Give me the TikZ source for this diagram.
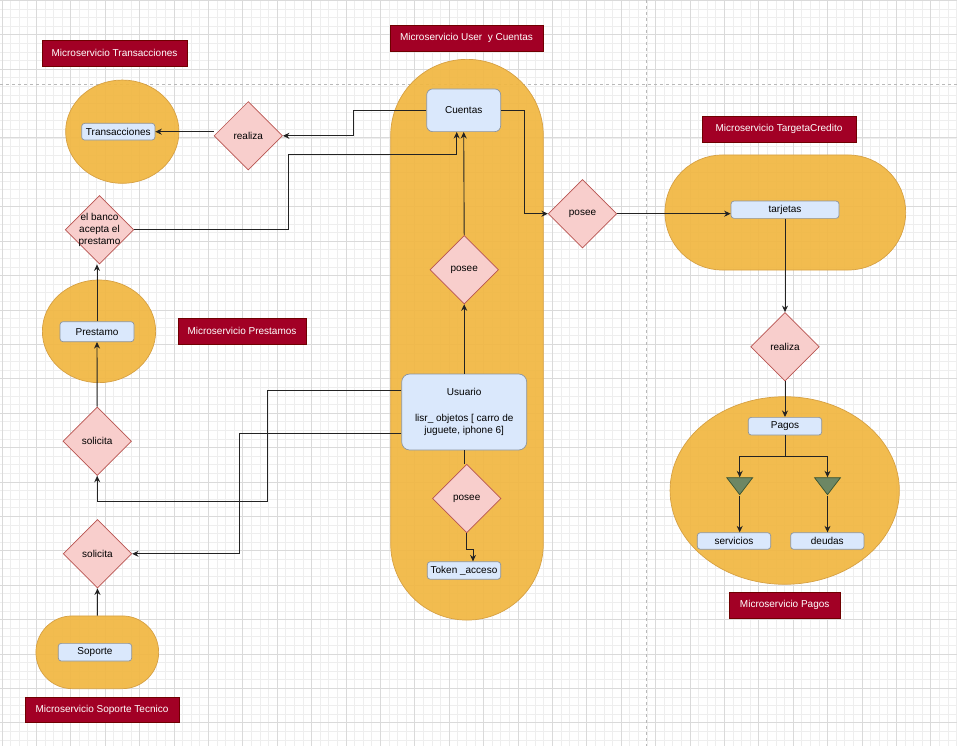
\documentclass[tikz,border=0pt]{standalone}
\usepackage{fontspec}
\setmainfont{Liberation Sans}
\usepackage{tikz}
\usetikzlibrary{shapes.geometric,arrows.meta}
\usepackage{xcolor}
\definecolor{crimsonbox}{RGB}{162,0,37}
\definecolor{crimsonline}{RGB}{111,0,0}
\definecolor{serviceorange}{RGB}{241,183,65}
\definecolor{serviceedge}{RGB}{214,160,66}
\definecolor{entityblue}{RGB}{218,232,252}
\definecolor{entityline}{RGB}{140,148,158}
\definecolor{relationpink}{RGB}{248,206,204}
\definecolor{relationline}{RGB}{184,84,80}
\definecolor{forkgreen}{RGB}{109,135,100}
\definecolor{forkline}{RGB}{58,84,49}
\definecolor{wiregray}{RGB}{35,35,35}
\definecolor{gridminor}{RGB}{238,238,238}
\definecolor{gridmajor}{RGB}{218,218,218}
\definecolor{pagebreak}{RGB}{185,185,185}

\begin{document}
\begin{tikzpicture}[x=1pt, y=-1pt,
    txt/.style={font=\fontsize{10}{12}\selectfont},
    svclabel/.style={txt, rectangle, fill=crimsonbox, draw=crimsonline, text=white, inner sep=0pt},
    svcarea/.style={fill=serviceorange, fill opacity=0.92, draw=serviceedge, line width=0.7pt, inner sep=0pt},
    entbox/.style={txt, rectangle, rounded corners=3pt, fill=entityblue, draw=entityline, line width=0.7pt, inner sep=0pt},
    relbox/.style={txt, diamond, fill=relationpink, draw=relationline, line width=0.7pt, inner sep=0pt, minimum width=68.5pt, minimum height=68.5pt},
    forktri/.style={isosceles triangle, isosceles triangle stretches, rotate=-90, fill=forkgreen, draw=forkline, line width=0.7pt, inner sep=0pt, minimum width=26pt, minimum height=17pt},
    plainline/.style={wiregray, line width=0.9pt},
    arrowline/.style={plainline, -{Stealth[length=6.5pt,width=6pt]}}]
    \useasboundingbox (0,0) rectangle (957,746);
    \fill[white] (0,0) rectangle (957,746);

    % Grid
    \foreach \gx in {0,...,111} \draw[gridminor, line width=0.5pt] ({1.9+8.6*\gx},0) -- ++(0,746);
    \foreach \gy in {0,...,86} \draw[gridminor, line width=0.5pt] (0,{0.2+8.6*\gy}) -- ++(957,0);
    \foreach \gx in {0,...,27} \draw[gridmajor, line width=0.6pt] ({1.9+34.4*\gx},0) -- ++(0,746);
    \foreach \gy in {0,...,21} \draw[gridmajor, line width=0.6pt] (0,{0.2+34.4*\gy}) -- ++(957,0);

    % Page breaks
    \draw[pagebreak, line width=0.6pt, dash pattern=on 3pt off 3pt] (0,84.3) -- (957,84.3);
    \draw[pagebreak, line width=0.6pt, dash pattern=on 3pt off 3pt] (646,0) -- (646,746);

    % Microservice areas
    \node[svcarea, ellipse, minimum width=113.3pt, minimum height=103.3pt] (transacArea) at (122.3,131.7) {};
    \node[svcarea, rectangle, rounded corners=76.2pt, minimum width=152.6pt, minimum height=560.7pt] (userArea) at (467,339.7) {};
    \node[svcarea, rectangle, rounded corners=57.4pt, minimum width=240.7pt, minimum height=115pt] (tarjetaArea) at (785.3,212.5) {};
    \node[svcarea, ellipse, minimum width=113.3pt, minimum height=102.7pt] (prestamoArea) at (99,331.3) {};
    \node[svcarea, ellipse, minimum width=229.3pt, minimum height=187.6pt] (pagosArea) at (784.7,490.5) {};
    \node[svcarea, rectangle, rounded corners=36.2pt, minimum width=122.7pt, minimum height=72.7pt] (soporteArea) at (97.3,652.3) {};

    % Microservice names
    \node[svclabel, minimum width=145.6pt, minimum height=26pt] (transacName) at (114.5,53) {Microservicio Transacciones};
    \node[svclabel, minimum width=153pt, minimum height=26pt] (userName) at (466.5,38) {Microservicio User~ y Cuentas};
    \node[svclabel, minimum width=154pt, minimum height=26.7pt] (tarjetaName) at (779,129.3) {Microservicio TargetaCredito};
    \node[svclabel, minimum width=128pt, minimum height=26pt] (prestamoName) at (242,331) {Microservicio Prestamos};
    \node[svclabel, minimum width=111.3pt, minimum height=26pt] (pagosName) at (784.7,605.3) {Microservicio Pagos};
    \node[svclabel, minimum width=154pt, minimum height=25.6pt] (soporteName) at (102,709.5) {Microservicio Soporte Tecnico};

    % Entities
    \node[entbox, minimum width=73.3pt, minimum height=16.7pt] (transac) at (118.3,131.7) {Transacciones};
    \node[entbox, rounded corners=6pt, minimum width=74pt, minimum height=42.7pt] (cuentas) at (463.7,110.3) {Cuentas};
    \node[entbox, minimum width=108pt, minimum height=17.3pt] (tarjetas) at (785,209.7) {tarjetas};
    \node[entbox, minimum width=74pt, minimum height=20pt] (prestamo) at (97,331.7) {Prestamo};
    \node[entbox, rounded corners=8pt, minimum width=125pt, minimum height=76pt, align=center] (usuario) at (464.2,412) {Usuario\\[14pt]lisr\_ objetos [ carro de\\juguete, iphone 6]};
    \node[entbox, minimum width=73.4pt, minimum height=17.6pt] (token) at (464,570.5) {Token \_acceso};
    \node[entbox, minimum width=73.4pt, minimum height=17.7pt] (pagos) at (785,426.2) {Pagos};
    \node[entbox, minimum width=73.4pt, minimum height=16.6pt] (servicios) at (734,541) {servicios};
    \node[entbox, minimum width=73.3pt, minimum height=16.6pt] (deudas) at (827.3,541) {deudas};
    \node[entbox, minimum width=73.4pt, minimum height=17.7pt] (soporte) at (95,652.2) {Soporte};

    % Relations
    \node[relbox] (realizaL) at (248.3,135.8) {realiza};
    \node[relbox, label={[txt, align=center]center:{el banco\\acepta el\\prestamo}}] (banco) at (99.5,229.8) {};
    \node[relbox] (poseeR) at (582.5,213.7) {posee};
    \node[relbox] (poseeC) at (464.2,269.7) {posee};
    \node[relbox] (solicitaP) at (97.2,441.2) {solicita};
    \node[relbox] (solicitaS) at (97.5,553.8) {solicita};
    \node[relbox] (poseeB) at (466.7,498.5) {posee};
    \node[relbox] (realizaR) at (785,346.7) {realiza};

    % Forks
    \node[forktri, anchor=lower side] (triServ) at (739.7,477.3) {};
    \node[forktri, anchor=lower side] (triDeu) at (827.5,477.3) {};

    % Connectors
    \draw[arrowline] (cuentas.west) -- ++(-72.7,0) |- (realizaL.east);
    \draw[arrowline] (realizaL.west |- transac.east) -- (transac.east);
    \draw[arrowline] (banco.east) -- ++(154.7,0) -- ++(0,-75.8) -| ([xshift=-7pt]cuentas.south);
    \draw[arrowline] (prestamo.north) -- (prestamo.north |- banco.south);
    \draw[arrowline] (solicitaP.north) -- (prestamo.south);
    \draw[arrowline] ([yshift=22pt]usuario.west) -- ++(-133.7,0) -- ++(0,111) -| (solicitaP.south);
    \draw[arrowline] ([yshift=-21pt]usuario.west) -- ++(-161.7,0) |- (solicitaS.east);
    \draw[arrowline] (soporteArea.north) -- (solicitaS.south);
    \draw[arrowline] (poseeC.north) -- (cuentas.south);
    \draw[arrowline] (usuario.north) -- (poseeC.south);
    \draw[plainline] (usuario.south) -- (usuario.south |- poseeB.north);
    \draw[arrowline] (poseeB.south) -- ++(0,16.6) -| ([xshift=9pt]token.north);
    \draw[arrowline] (cuentas.east) -- ++(23.6,0) |- (poseeR.west);
    \draw[arrowline] (poseeR.east) -- (poseeR.east -| tarjetas.west);
    \draw[arrowline] (tarjetas.south) -- (realizaR.north);
    \draw[arrowline] (realizaR.south) -- (pagos.north);
    \draw[plainline] (pagos.south) -- ++(0,20.7) coordinate (pagosSplit);
    \draw[arrowline] (pagosSplit) -| (triServ.lower side);
    \draw[arrowline] (pagosSplit) -| (triDeu.lower side);
    \draw[arrowline] (triServ.apex) -- (triServ.apex |- servicios.north);
    \draw[arrowline] (triDeu.apex) -- (triDeu.apex |- deudas.north);
\end{tikzpicture}
\end{document}
